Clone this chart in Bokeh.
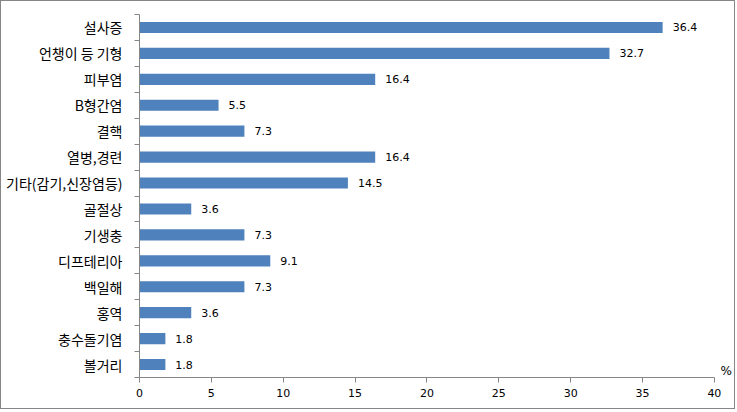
from bokeh.plotting import figure
from bokeh.models import FixedTicker, ColumnDataSource
from bokeh.core.properties import value
from bokeh.embed import file_html
from bokeh.resources import INLINE

categories = ["설사증", "언챙이 등 기형", "피부염", "B형간염", "결핵", "열병,경련",
              "기타(감기,신장염등)", "골절상", "기생충", "디프테리아", "백일해",
              "홍역", "충수돌기염", "볼거리"]
values = [36.4, 32.7, 16.4, 5.5, 7.3, 16.4, 14.5, 3.6, 7.3, 9.1, 7.3, 3.6, 1.8, 1.8]
x_ticks = [0, 5, 10, 15, 20, 25, 30, 35, 40]
unit_label = "%"

n = len(categories)
ypos = [n - 0.5 - i for i in range(n)]
src = ColumnDataSource(dict(y=ypos, v=values, lbl=[f"{v:.1f}" for v in values]))

x_max = 40
p = figure(width=735, height=409, output_backend="svg", toolbar_location=None,
           x_range=(0, 41.4), y_range=(0, n),
           min_border_left=138, min_border_right=2, min_border_top=13, min_border_bottom=33,
           styles={"border": "1px solid #868686"})
p.outline_line_color = None
p.xgrid.visible = False
p.ygrid.visible = False
p.background_fill_color = "white"
p.border_fill_color = "white"

p.hbar(y="y", right="v", left=0, height=0.43, source=src, color="#4F81BD", line_color=None)
p.text(x="v", y="y", text="lbl", source=src, x_offset=10, text_baseline="middle",
       text_font=value("DejaVu Sans"), text_font_size="11px", text_color="#000000")

# unit label at right end of x axis
p.text(x=[x_max], y=[0], text=[unit_label], x_offset=6, y_offset=0,
       text_baseline="bottom", text_font=value("DejaVu Sans"), text_font_size="12px",
       text_color="#000000")

# y axis: labels at centers, ticks at boundaries (minor)
p.yaxis.ticker = FixedTicker(ticks=ypos, minor_ticks=list(range(n + 1)))
p.yaxis.major_label_overrides = {y: c for y, c in zip(ypos, categories)}
p.yaxis.major_tick_out = 0
p.yaxis.major_tick_in = 0
p.yaxis.minor_tick_out = 5
p.yaxis.minor_tick_in = 0
p.yaxis.minor_tick_line_color = "#868686"
p.yaxis.axis_line_color = "#868686"
p.yaxis.major_label_standoff = 12
p.yaxis.major_label_text_font = "Noto Sans CJK KR"
p.yaxis.major_label_text_font_size = "14px"
p.yaxis.major_label_text_color = "#000000"

p.xaxis.ticker = FixedTicker(ticks=x_ticks, minor_ticks=[])
p.xaxis.bounds = (0, x_max)
p.xaxis.major_tick_out = 5
p.xaxis.major_tick_in = 0
p.xaxis.major_tick_line_color = "#868686"
p.xaxis.axis_line_color = "#868686"
p.xaxis.major_label_standoff = 6
p.xaxis.major_label_text_font = "DejaVu Sans"
p.xaxis.major_label_text_font_size = "11px"
p.xaxis.major_label_text_color = "#000000"

open("out.html", "w").write(file_html(p, INLINE))
